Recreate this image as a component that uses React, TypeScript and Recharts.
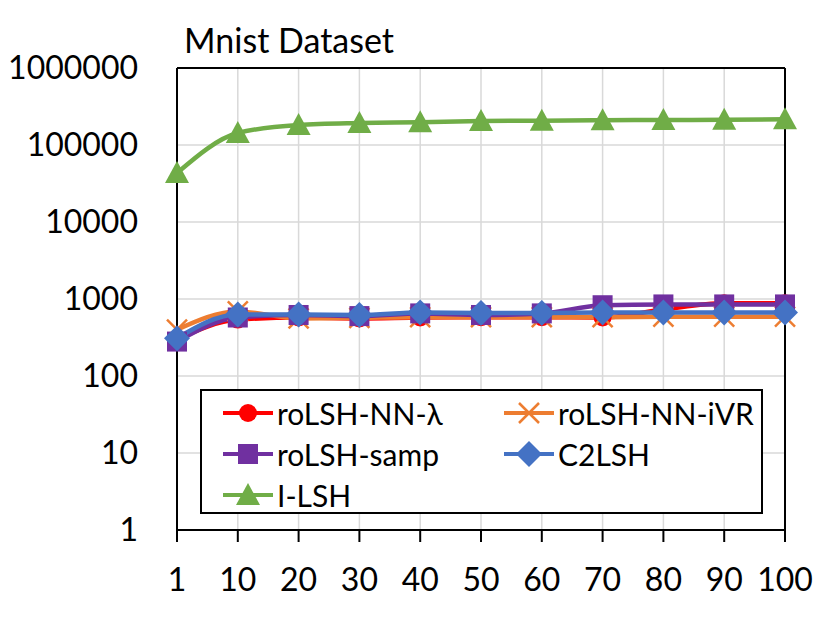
import { LineChart, Line, XAxis, YAxis, CartesianGrid, Legend, ReferenceLine } from 'recharts';

const xLabels = ['1', '10', '20', '30', '40', '50', '60', '70', '80', '90', '100'];
const yTicks = [1, 10, 100, 1000, 10000, 100000, 1000000];

const lambdaVals = [300, 540, 575, 560, 575, 580, 580, 575, 730, 880, 880];
const ivrVals = [400, 690, 560, 570, 580, 580, 580, 580, 590, 590, 590];
const sampVals = [280, 575, 620, 600, 650, 620, 650, 830, 850, 850, 850];
const c2lshVals = [310, 630, 630, 620, 670, 660, 660, 670, 670, 670, 670];
const ilshVals = [43300, 143000, 182000, 193000, 198000, 205000, 207000, 210000, 211000, 212000, 216000];

const series = [
  { key: 'lambda', name: 'roLSH-NN-λ', color: '#FF0000', shape: 'circle', values: lambdaVals },
  { key: 'ivr', name: 'roLSH-NN-iVR', color: '#ED7D31', shape: 'cross', values: ivrVals },
  { key: 'samp', name: 'roLSH-samp', color: '#7030A0', shape: 'square', values: sampVals },
  { key: 'c2lsh', name: 'C2LSH', color: '#4472C4', shape: 'diamond', values: c2lshVals },
  { key: 'ilsh', name: 'I-LSH', color: '#70AD47', shape: 'triangle', values: ilshVals },
];

const data = xLabels.map((x, i) => {
  const row: Record<string, string | number> = { x };
  series.forEach((s) => {
    row[s.key] = s.values[i];
  });
  return row;
});

const FONT = 'Lato, "Open Sans", sans-serif';

function Marker({ shape, cx, cy, color }: { shape: string; cx: number; cy: number; color: string }) {
  if (shape === 'circle') return <circle cx={cx} cy={cy} r={9} fill={color} />;
  if (shape === 'square') return <rect x={cx - 10} y={cy - 10} width={20} height={20} fill={color} />;
  if (shape === 'diamond')
    return <polygon points={`${cx},${cy - 13} ${cx + 13},${cy} ${cx},${cy + 13} ${cx - 13},${cy}`} fill={color} />;
  if (shape === 'triangle')
    return <polygon points={`${cx},${cy - 12} ${cx + 12},${cy + 10} ${cx - 12},${cy + 10}`} fill={color} />;
  return (
    <g stroke={color} strokeWidth={2.5}>
      <line x1={cx - 10} y1={cy - 10} x2={cx + 10} y2={cy + 10} />
      <line x1={cx - 10} y1={cy + 10} x2={cx + 10} y2={cy - 10} />
    </g>
  );
}

// keep the legend in series order (Excel order), not alphabetical
const renderLegend = (props: any) => {
  const payload = props.payload || [];
  const keys = payload.map((p: any) => p.dataKey);
  const items = series.filter((s) => keys.includes(s.key));
  return (
    <div
      style={{
        display: 'grid',
        gridTemplateColumns: '281px max-content',
        gridAutoRows: '41px',
        padding: '1px 0 0 20px',
        fontFamily: FONT,
        fontSize: 30,
        color: '#000',
        whiteSpace: 'nowrap',
      }}
    >
      {items.map((s) => (
        <div key={s.key} style={{ display: 'flex', alignItems: 'center' }}>
          <svg width={52} height={30} style={{ marginRight: 3, flexShrink: 0 }}>
            <line x1={1} y1={15} x2={51} y2={15} stroke={s.color} strokeWidth={4} />
            <Marker shape={s.shape} cx={26} cy={15} color={s.color} />
          </svg>
          <span>{s.name}</span>
        </div>
      ))}
    </div>
  );
};

export default function App() {
  return (
    <div style={{ position: 'absolute', left: 0, top: 0, width: 830, height: 629, background: '#fff' }}>
      <div style={{ position: 'absolute', left: 184, top: 23, fontFamily: FONT, fontSize: 34, lineHeight: '34px', color: '#000' }}>
        Mnist Dataset
      </div>
      <LineChart width={830} height={629} data={data} margin={{ top: 68, right: 45, bottom: 0, left: 0 }}>
        <CartesianGrid stroke="#d9d9d9" strokeWidth={1.5} />
        <XAxis
          dataKey="x"
          interval={0}
          height={99}
          axisLine={{ stroke: '#000', strokeWidth: 2 }}
          tickLine={{ stroke: '#000', strokeWidth: 2 }}
          tickSize={12}
          tickMargin={26}
          tick={{ fill: '#000', fontSize: 32, fontFamily: FONT }}
        />
        <YAxis
          scale="log"
          domain={[1, 1000000]}
          ticks={yTicks}
          interval={0}
          width={177}
          axisLine={{ stroke: '#000', strokeWidth: 2 }}
          tickLine={false}
          tickSize={0}
          tickMargin={39}
          tickFormatter={(v: number) => String(v)}
          tick={{ fill: '#000', fontSize: 32, fontFamily: FONT }}
        />
        <ReferenceLine y={1000000} stroke="#000" strokeWidth={2} />
        <ReferenceLine x="100" stroke="#000" strokeWidth={2} />
        {series.map((s) => (
          <Line
            key={s.key}
            type="monotone"
            dataKey={s.key}
            name={s.name}
            stroke={s.color}
            strokeWidth={4.5}
            isAnimationActive={false}
            dot={(p: any) => <Marker key={`${s.key}-${p.index}`} shape={s.shape} cx={p.cx} cy={p.cy} color={s.color} />}
            activeDot={false}
          />
        ))}
        <Legend
          layout="horizontal"
          verticalAlign="middle"
          align="center"
          content={renderLegend}
          wrapperStyle={{
            left: 200,
            top: 389,
            bottom: 'auto',
            width: 563,
            height: 125,
            border: '2px solid #000',
            background: '#fff',
            boxSizing: 'border-box',
          }}
        />
      </LineChart>
    </div>
  );
}
